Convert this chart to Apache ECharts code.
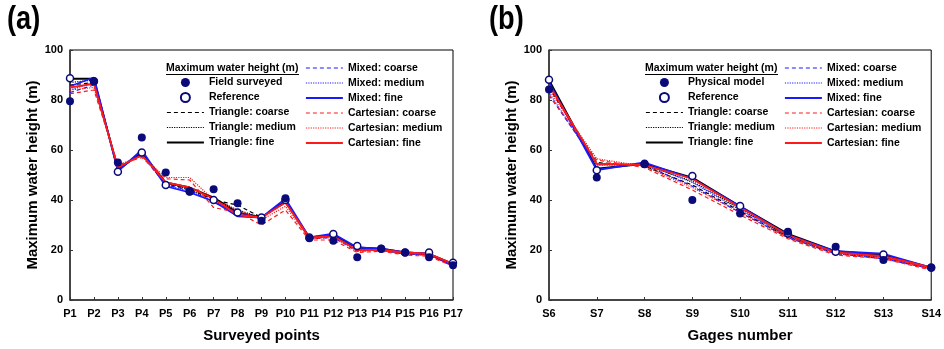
<!DOCTYPE html>
<html>
<head>
<meta charset="utf-8">
<script src="https://cdn.jsdelivr.net/npm/echarts@6/dist/echarts.min.js"></script>
<style>
html,body{margin:0;padding:0;background:#fff;}
#chart{width:944px;height:349px;}
</style>
</head>
<body>
<div id="chart"></div>
<script>
// ---------- Data ----------
const pointsA = ['P1','P2','P3','P4','P5','P6','P7','P8','P9','P10','P11','P12','P13','P14','P15','P16','P17'];
const fieldSurveyedA = [79.5, 87.5, 55, 65, 51, 43.3, 44.3, 38.7, 31.7, 40.7, 24.7, 23.7, 17.1, 20.5, 19, 17.1, 13.9];
const referenceA     = [88.7, 87.5, 51.3, 59, 46, 43.5, 40, 35, 33, 40, 25, 26.4, 21.6, 20.5, 19, 19, 14.9];
const triCoarseA  = [86, 87, 53, 58, 46.5, 44.5, 40, 38, 33, 39, 25, 25.5, 20, 20, 18.5, 18, 14];
const triMediumA  = [87, 88, 53, 58.5, 47, 44, 40.5, 36, 33, 39.5, 25, 25.5, 20.5, 20, 18.5, 18, 14];
const triFineA    = [88.5, 88.5, 52, 59, 47, 45, 41, 35, 33, 39.5, 25, 26, 21, 20.5, 19, 18.5, 14.5];
const mixCoarseA  = [83, 86, 53, 58, 46, 44, 39, 35, 33, 39, 24.5, 25, 19.5, 20, 18.5, 18, 14];
const mixMediumA  = [84, 87, 52.5, 58.5, 46, 43.5, 39.5, 35, 33, 39.5, 24.5, 25.5, 20, 20, 18.5, 18, 14];
const mixFineA    = [85.5, 89, 51.5, 60, 45.5, 43, 39.5, 33.5, 33, 40.5, 25, 26.5, 21, 20.5, 19, 18.5, 13.5];
const carCoarseA  = [82.5, 84, 54, 57, 48.5, 48, 37, 35, 30, 36, 24, 24, 19, 19.5, 18, 17.5, 13.5];
const carMediumA  = [84, 85, 54, 57.5, 49, 49, 40, 36, 32, 37.5, 24.5, 25, 19.5, 20, 18.5, 18, 14];
const carFineA    = [85, 86.5, 53, 58, 47, 45, 40.5, 34, 33, 39, 25, 25.5, 20, 20, 19, 18.5, 14.5];

const gagesB = ['S6','S7','S8','S9','S10','S11','S12','S13','S14'];
const physicalB  = [84.2, 49, 54.3, 40, 34.6, 27.3, 21.3, 16, 12.9];
const referenceB = [88.1, 51.9, 54.5, 49.6, 37.6, 26.6, 19.3, 18.2, 13];
const triCoarseB = [85, 55, 53.5, 46, 35.5, 25, 18.5, 17, 12.5];
const triMediumB = [86, 54, 54, 47.5, 36.5, 25.5, 19, 17.5, 13];
const triFineB   = [88, 52.5, 54.5, 49, 37.5, 26.5, 19.5, 18, 13];
const mixCoarseB = [82, 54.5, 54, 45.5, 35, 25, 18.5, 16.5, 12.5];
const mixMediumB = [83, 54, 54.5, 47, 36, 25.5, 19, 17, 12.5];
const mixFineB   = [87, 52, 55, 48.5, 37.5, 26, 19.5, 18.5, 13];
const carCoarseB = [82, 56, 53, 44, 34, 24.5, 18, 16.5, 12];
const carMediumB = [84, 56.5, 53.5, 45, 35, 25, 18.5, 17, 12.5];
const carFineB   = [86, 54.5, 54, 48.5, 37, 26, 19, 17.5, 13];

const yTicks = [0, 20, 40, 60, 80, 100];

// ---------- Styles ----------
const FONT = "'Liberation Sans', Arial, sans-serif";
const NAVY = '#0a0a78';
const BLACK = '#000000', BLUE = '#1a1aff', RED = '#ff1a1a';
const DASH = [4, 3], DOT = [1.2, 1.2];

function styleOf(color, kind) {
  return {
    color,
    type: kind === 'coarse' ? DASH : (kind === 'medium' ? DOT : 'solid'),
    width: kind === 'fine' ? 1.8 : 1.2
  };
}
const lineKinds = {
  'Triangle: coarse': [BLACK, 'coarse'], 'Triangle: medium': [BLACK, 'medium'], 'Triangle: fine': [BLACK, 'fine'],
  'Mixed: coarse': [BLUE, 'coarse'], 'Mixed: medium': [BLUE, 'medium'], 'Mixed: fine': [BLUE, 'fine'],
  'Cartesian: coarse': [RED, 'coarse'], 'Cartesian: medium': [RED, 'medium'], 'Cartesian: fine': [RED, 'fine']
};

function lineSeries(name, data, idx) {
  const [color, kind] = lineKinds[name];
  return {
    name, type: 'line', data, xAxisIndex: idx, yAxisIndex: idx,
    symbol: 'none', smooth: false,
    lineStyle: styleOf(color, kind),
    itemStyle: { color },
    emphasis: { disabled: true }, z: 2
  };
}
function scatterSeries(name, data, idx, filled) {
  return {
    name, type: 'scatter', data, xAxisIndex: idx, yAxisIndex: idx,
    symbol: 'circle', symbolSize: filled ? 8 : 7, symbolKeepAspect: true,
    itemStyle: filled ? { color: NAVY, borderColor: NAVY, borderWidth: 0, opacity: 1 }
                      : { color: '#ffffff', borderColor: NAVY, borderWidth: 1.5, opacity: 1 },
    emphasis: { disabled: true }, z: 5
  };
}

function buildSeries(idx, obsName, obs, ref, s) {
  const names = Object.keys(lineKinds);
  return names.map((n, i) => lineSeries(n, s[i], idx)).concat([
    scatterSeries('Reference', ref, idx, false),
    scatterSeries(obsName, obs, idx, true)
  ]);
}

const series = [].concat(
  buildSeries(0, 'Field surveyed', fieldSurveyedA, referenceA,
    [triCoarseA, triMediumA, triFineA, mixCoarseA, mixMediumA, mixFineA, carCoarseA, carMediumA, carFineA]),
  buildSeries(1, 'Physical model', physicalB, referenceB,
    [triCoarseB, triMediumB, triFineB, mixCoarseB, mixMediumB, mixFineB, carCoarseB, carMediumB, carFineB])
);

const legendText = { fontFamily: FONT, fontWeight: 'bold', fontSize: 10.5, color: '#000', lineHeight: 11 };
function legendItems(names) {
  return names.map(n => {
    if (lineKinds[n]) {
      const [color, kind] = lineKinds[n];
      return { name: n, itemStyle: { opacity: 0, color: 'transparent', borderWidth: 0 }, lineStyle: styleOf(color, kind) };
    }
    return { name: n };
  });
}
function legend(left, top, names) {
  return {
    left, top, orient: 'vertical', padding: 0, itemGap: 4,
    itemWidth: 37, itemHeight: 9, selectedMode: false,
    textStyle: legendText, data: legendItems(names), symbolKeepAspect: true
  };
}
const col2 = ['Mixed: coarse','Mixed: medium','Mixed: fine','Cartesian: coarse','Cartesian: medium','Cartesian: fine'];

function xAxis(idx, data, name) {
  return {
    type: 'category', gridIndex: idx, data, boundaryGap: false,
    name, nameLocation: 'middle', nameGap: 28,
    nameTextStyle: { fontFamily: FONT, fontWeight: 'bold', fontSize: 15, color: '#000' },
    axisLine: { show: true, lineStyle: { color: '#333', width: 1.5 } },
    axisTick: { show: true, inside: true, length: 3, alignWithLabel: true, lineStyle: { color: '#333' } },
    axisLabel: { interval: 0, margin: 8, fontFamily: FONT, fontWeight: 'bold', fontSize: 11, color: '#000' },
    splitLine: { show: false }
  };
}
function yAxis(idx) {
  return {
    type: 'value', gridIndex: idx, min: yTicks[0], max: yTicks[yTicks.length - 1], interval: 20,
    name: 'Maximum water height (m)', nameLocation: 'middle', nameGap: 30,
    nameTextStyle: { fontFamily: FONT, fontWeight: 'bold', fontSize: 15, color: '#000' },
    axisLine: { show: true, lineStyle: { color: '#333', width: 1.5 } },
    axisTick: { show: true, inside: true, length: 3, lineStyle: { color: '#333' } },
    axisLabel: { margin: 7, fontFamily: FONT, fontWeight: 'bold', fontSize: 11, color: '#000' },
    splitLine: { show: false }
  };
}

function legendHeader(x, y) {
  return [
    { type: 'text', left: x, top: y - 6, z: 10,
      style: { text: 'Maximum water height (m)', font: "bold 10.5px " + FONT, fill: '#000' } },
    { type: 'line', z: 10, shape: { x1: x, y1: y + 5.5, x2: x + 133, y2: y + 5.5 },
      style: { stroke: '#000', lineWidth: 1 } }
  ];
}
function panelLabel(text, x) {
  return { type: 'text', x, y: 3, scaleX: 0.8, z: 10,
    style: { text, font: "bold 34px " + FONT, fill: '#000', textVerticalAlign: 'top' } };
}

const option = {
  animation: false,
  backgroundColor: '#ffffff',
  grid: [
    { left: 70, right: 491, top: 50, bottom: 49, show: true, borderColor: '#000', borderWidth: 1, backgroundColor: 'transparent' },
    { left: 549, right: 12, top: 50, bottom: 49, show: true, borderColor: '#000', borderWidth: 1, backgroundColor: 'transparent' }
  ],
  xAxis: [xAxis(0, pointsA, 'Surveyed points'), xAxis(1, gagesB, 'Gages number')],
  yAxis: [yAxis(0), yAxis(1)],
  legend: [
    legend(166, 77, ['Field surveyed','Reference','Triangle: coarse','Triangle: medium','Triangle: fine']),
    legend(305, 62.5, col2),
    legend(645, 77, ['Physical model','Reference','Triangle: coarse','Triangle: medium','Triangle: fine']),
    legend(784, 62.5, col2)
  ],
  graphic: [].concat(legendHeader(166, 69), legendHeader(645, 69), [panelLabel('(a)', 7), panelLabel('(b)', 489)]),
  series
};

const chart = echarts.init(document.getElementById('chart'), null, { renderer: 'canvas' });
chart.setOption(option);
</script>
</body>
</html>
